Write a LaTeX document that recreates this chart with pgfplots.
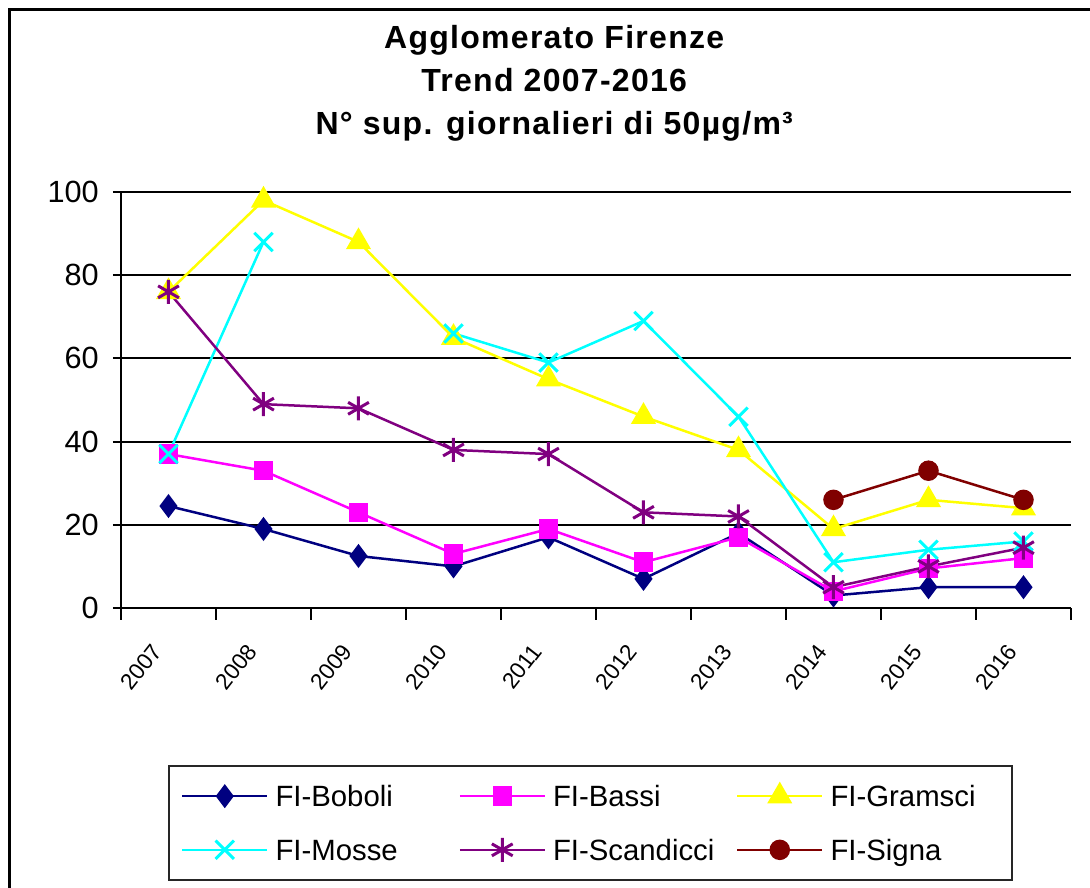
\documentclass[border=0pt]{standalone}
\usepackage{fontspec}
\setmainfont{Liberation Sans}
\newfontfamily\titlefont[LetterSpace=4]{Liberation Sans}
\usepackage{pgfplots}
\pgfplotsset{compat=1.18}
\newlength{\pxu}\setlength{\pxu}{0.75pt}
\definecolor{cBoboli}{RGB}{0,0,128}
\definecolor{cBassi}{RGB}{255,0,255}
\definecolor{cGramsci}{RGB}{255,255,0}
\definecolor{cMosse}{RGB}{0,255,255}
\definecolor{cScandicci}{RGB}{128,0,128}
\definecolor{cSigna}{RGB}{128,0,0}
\begin{document}
\begin{tikzpicture}
\path[use as bounding box] (0,0) rectangle (1090\pxu,888\pxu);
\draw[line width=3\pxu] (9.5\pxu,-50\pxu) -- (9.5\pxu,878\pxu) -- (1150\pxu,878\pxu);
\begin{axis}[
  at={(121\pxu,280\pxu)}, anchor=south west,
  scale only axis, width=950\pxu, height=416\pxu,
  xmin=-0.5, xmax=9.5, ymin=0, ymax=100,
  axis lines*=left,
  axis line style={line width=2\pxu, black},
  ytick={0,20,...,100},
  ymajorgrids, grid style={line width=2\pxu, black},
  xtick={0,...,9},
  xticklabels={2007,2008,2009,2010,2011,2012,2013,2014,2015,2016},
  minor xtick={-0.5,0.5,...,9.5},
  tick align=outside,
  major tick length=8\pxu, minor tick length=12\pxu,
  major x tick style={draw=none},
  minor x tick style={line width=2\pxu, black},
  major y tick style={line width=2\pxu, black},
  tick label style={font=\fontsize{23}{27}\selectfont},
  yticklabel style={anchor=east, inner sep=0pt, xshift=-14\pxu},
  xticklabel style={anchor=north east, inner sep=0pt, xshift=-18\pxu, yshift=-26\pxu, rotate=52, font=\fontsize{17}{20}\selectfont},
  /pgf/number format/assume math mode=true,
  clip=false,
  unbounded coords=jump,
  title={Agglomerato Firenze\\Trend 2007-2016\\N° sup. giornalieri di 50µg/m³},
  title style={at={(0.456,1.383)}, anchor=north, align=center, inner sep=0pt,
    font=\titlefont\bfseries\fontsize{24}{32.5}\selectfont},
  legend columns=3,
  legend cell align=left,
  legend style={at={(0.0495,-0.377)}, anchor=north west, draw=black!85, line width=2\pxu,
    font=\fontsize{22}{26}\selectfont, inner xsep=12\pxu, inner ysep=17\pxu,
    row sep=27\pxu, column sep=0pt,
    nodes={inner sep=0pt, text height=18pt, text depth=2pt}},
  legend image code/.code={\draw[mark repeat=2,mark phase=2] plot coordinates {(0\pxu,0pt) (42.5\pxu,0pt) (85\pxu,0pt)};},
]
\addplot[color=cBoboli, line width=2.5\pxu, mark=diamond*, mark size=10\pxu, mark options={solid}]
  coordinates {(0,24.5) (1,19) (2,12.5) (3,10) (4,17) (5,7) (6,18) (7,3) (8,5) (9,5)};
\addlegendentry{\hspace{7\pxu}\makebox[183\pxu][l]{FI-Boboli}}
\addplot[color=cBassi, line width=2.5\pxu, mark=square*, mark size=8.5\pxu, mark options={solid}]
  coordinates {(0,37) (1,33) (2,23) (3,13) (4,19) (5,11) (6,17) (7,4) (8,9.5) (9,12)};
\addlegendentry{\hspace{7\pxu}\makebox[183\pxu][l]{FI-Bassi}}
\addplot[color=cGramsci, line width=2.5\pxu, mark=triangle*, mark size=12\pxu, mark options={solid}]
  coordinates {(0,76) (1,98) (2,88) (3,65) (4,55) (5,46) (6,38) (7,19) (8,26) (9,24)};
\addlegendentry{\hspace{7\pxu}\makebox[169\pxu][l]{FI-Gramsci}}
\addplot[color=cMosse, line width=2.5\pxu, mark=x, mark size=13\pxu, mark options={solid, line width=3\pxu}]
  coordinates {(0,37) (1,88) (2,nan) (3,66) (4,59) (5,69) (6,46) (7,11) (8,14) (9,16)};
\addlegendentry{\hspace{7\pxu}\makebox[183\pxu][l]{FI-Mosse}}
\addplot[color=cScandicci, line width=2.5\pxu, mark=asterisk, mark size=12\pxu, mark options={solid, line width=3\pxu}]
  coordinates {(0,76) (1,49) (2,48) (3,38) (4,37) (5,23) (6,22) (7,5) (8,10) (9,14.5)};
\addlegendentry{\hspace{7\pxu}\makebox[183\pxu][l]{FI-Scandicci}}
\addplot[color=cSigna, line width=2.5\pxu, mark=*, mark size=9\pxu, mark options={solid}]
  coordinates {(7,26) (8,33) (9,26)};
\addlegendentry{\hspace{7\pxu}\makebox[169\pxu][l]{FI-Signa}}
\end{axis}
\end{tikzpicture}
\end{document}
